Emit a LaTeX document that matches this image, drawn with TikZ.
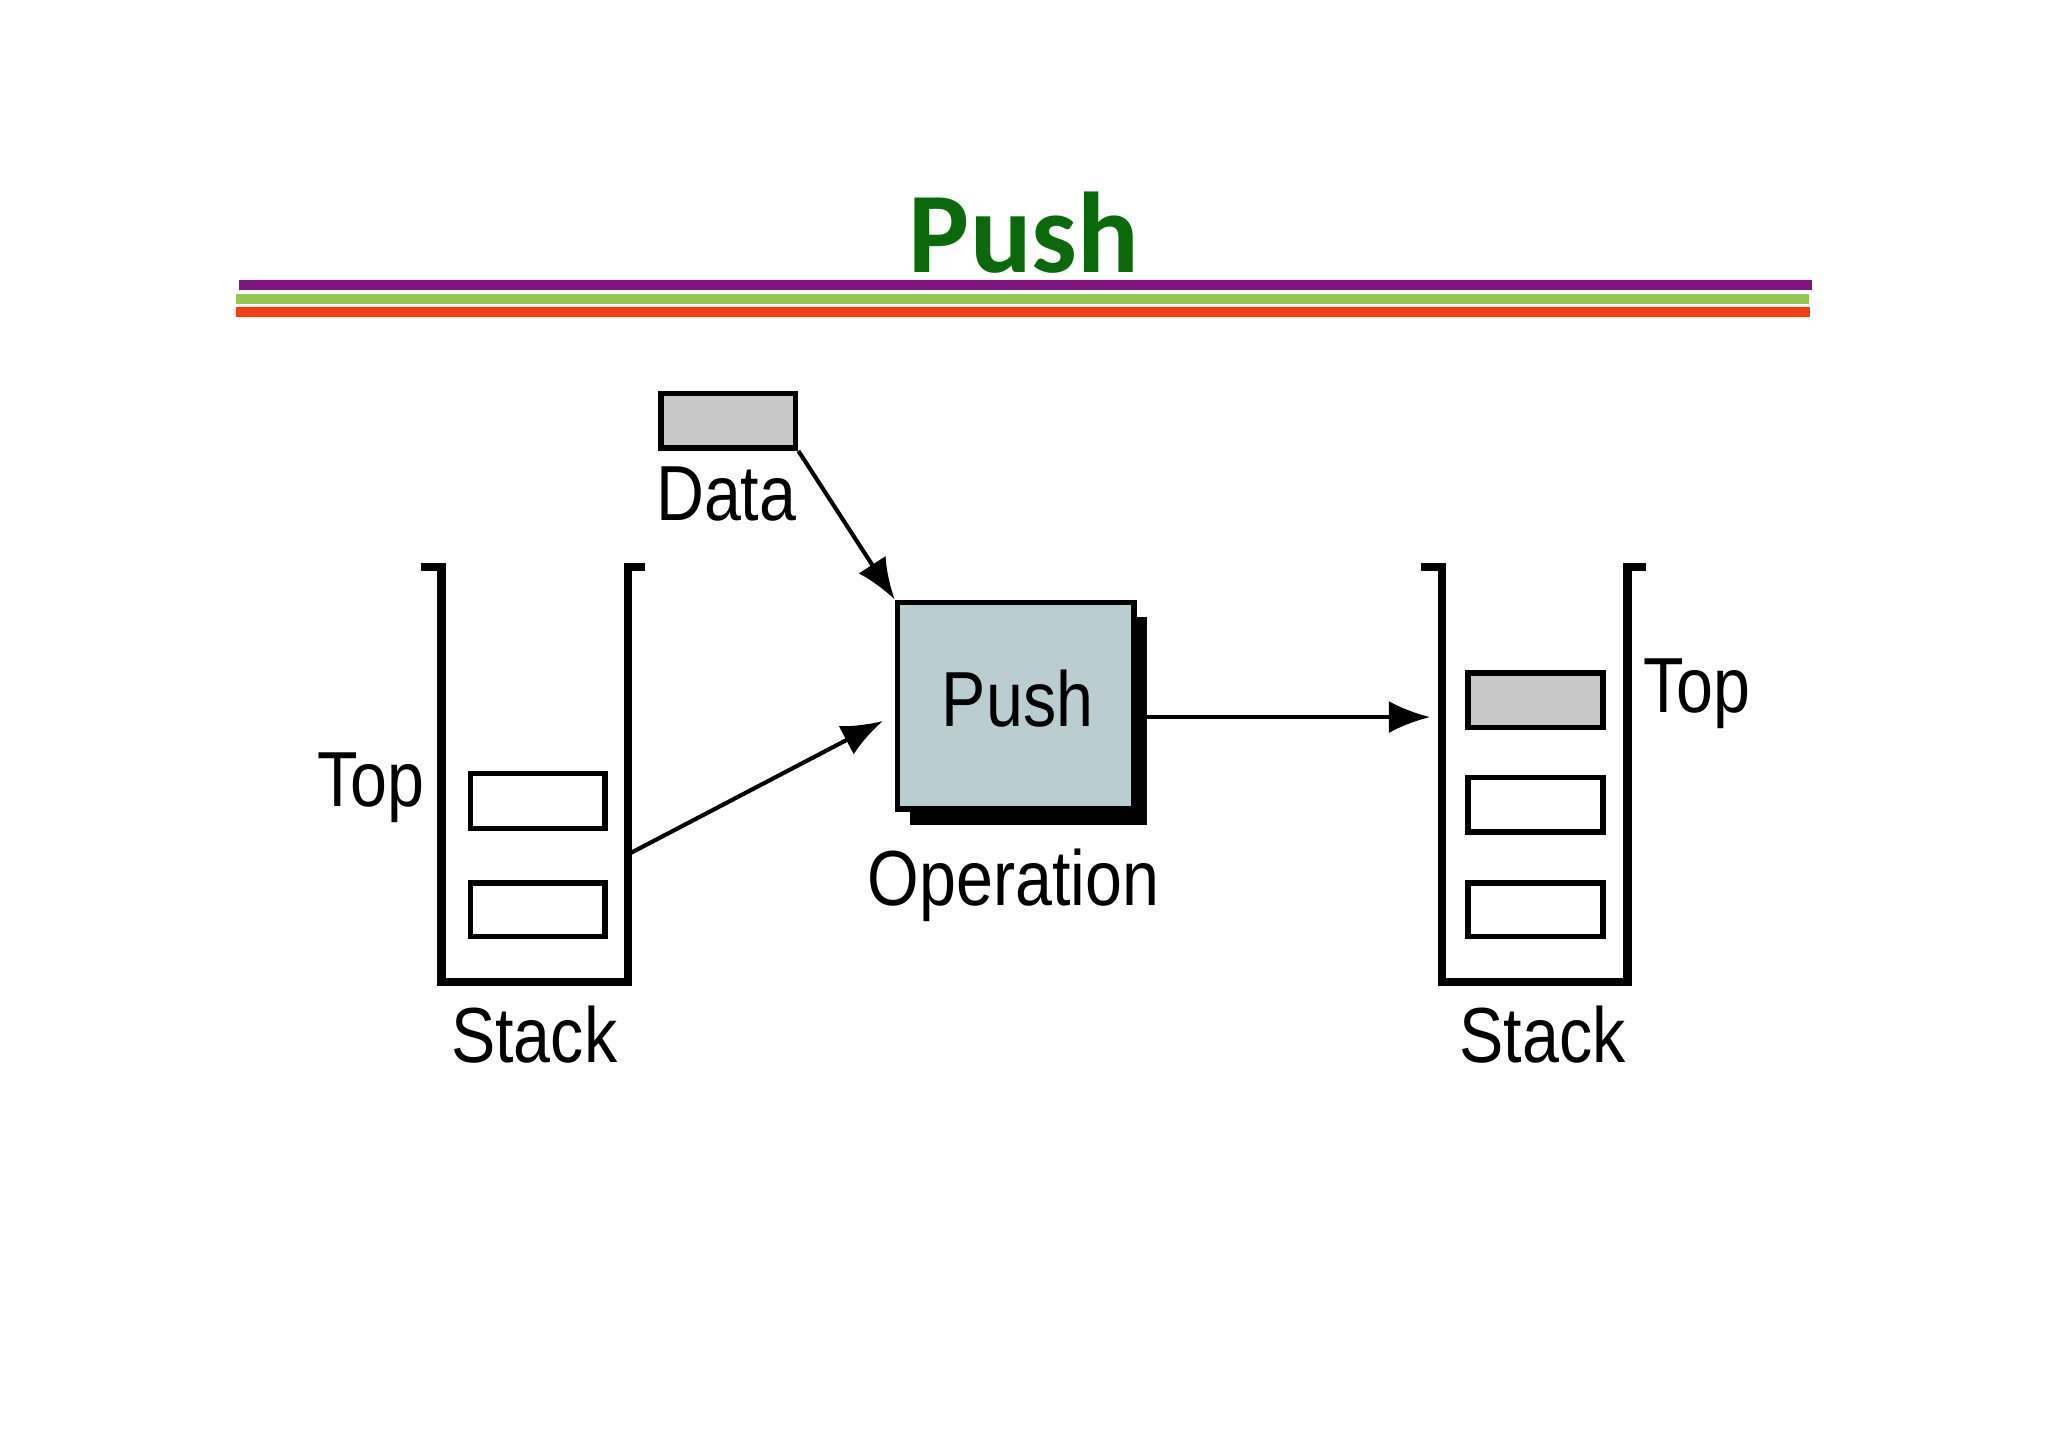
\documentclass[tikz,border=0pt]{standalone}
\usepackage{fontspec}
\setmainfont{Liberation Sans}
\newfontfamily\titlefont{Carlito}
\usetikzlibrary{arrows.meta}
\definecolor{ttl}{RGB}{10,105,10}
\definecolor{pur}{RGB}{128,20,128}
\definecolor{lgr}{RGB}{150,200,80}
\definecolor{org}{RGB}{250,60,20}
\definecolor{opfill}{RGB}{186,206,210}
\definecolor{dfill}{RGB}{200,200,200}
\begin{document}
\begin{tikzpicture}[x=0.01cm,y=-0.01cm,
  lbl/.style={font=\fontsize{17}{20}\selectfont, xscale=0.85},
  cell/.style={draw, line width=1.2pt},
  stk/.style={line width=1.8pt},
  arr/.style={-{Latex[length=9pt,width=7pt]}, line width=0.9pt}]
\useasboundingbox (0,0) rectangle (1568,1108.6);
\node[font=\titlefont\bfseries\fontsize{25}{30}\selectfont, text=ttl] (title) at (784,178) {Push};
\draw[pur, line width=2.2pt] (183,218) -- (1387,218);
\draw[lgr, line width=2.2pt] (181,229) -- (1385,229);
\draw[org, line width=2.2pt] (181,239) -- (1386,239);
% data
\node[cell, fill=dfill, minimum width=1.03cm, minimum height=0.42cm, inner sep=0, anchor=north west] (data) at (504,299) {};
\node[lbl] (datal) at (556,378) {Data};
% left stack
\draw[stk] (322,434) -- (338,434) -- (338,752) -- (481,752) -- (481,434) -- (494,434);
\node[cell, minimum width=1.03cm, minimum height=0.42cm, inner sep=0, anchor=north west] (l1) at (358,590) {};
\node[cell, minimum width=1.03cm, minimum height=0.41cm, inner sep=0, anchor=north west] (l2) at (358,674) {};
\coordinate (lout) at (483,653);
\node[lbl] (ltop) at (284,603) {Top};
\node[lbl] (lstack) at (409,792) {Stack};
% operation
\fill (697,472) rectangle (878,632);
\node[draw, line width=1.2pt, fill=opfill, minimum width=1.81cm, minimum height=1.58cm, inner sep=0, anchor=north west] (op) at (685,459) {};
\node[lbl] (opl) at (779,535) {Push};
\node[lbl] (opn) at (776,678) {Operation};
% right stack
\draw[stk] (1088,434) -- (1104,434) -- (1104,752) -- (1246,752) -- (1246,434) -- (1260,434);
\node[cell, fill=dfill, minimum width=1.03cm, minimum height=0.42cm, inner sep=0, anchor=north west] (r1) at (1122,513) {};
\node[cell, minimum width=1.03cm, minimum height=0.42cm, inner sep=0, anchor=north west] (r2) at (1122,593) {};
\node[cell, minimum width=1.03cm, minimum height=0.41cm, inner sep=0, anchor=north west] (r3) at (1122,674) {};
\node[lbl] (rtop) at (1299,531) {Top};
\node[lbl] (rstack) at (1181,792) {Stack};
\coordinate (rin) at (1095,549);
\coordinate (opr) at (878,549);
\coordinate (opin) at (676,552);
% arrows
\draw[arr] (data.south east) -- (op.north west);
\draw[arr] (lout) -- (opin);
\draw[arr] (opr) -- (rin);
\end{tikzpicture}
\end{document}
